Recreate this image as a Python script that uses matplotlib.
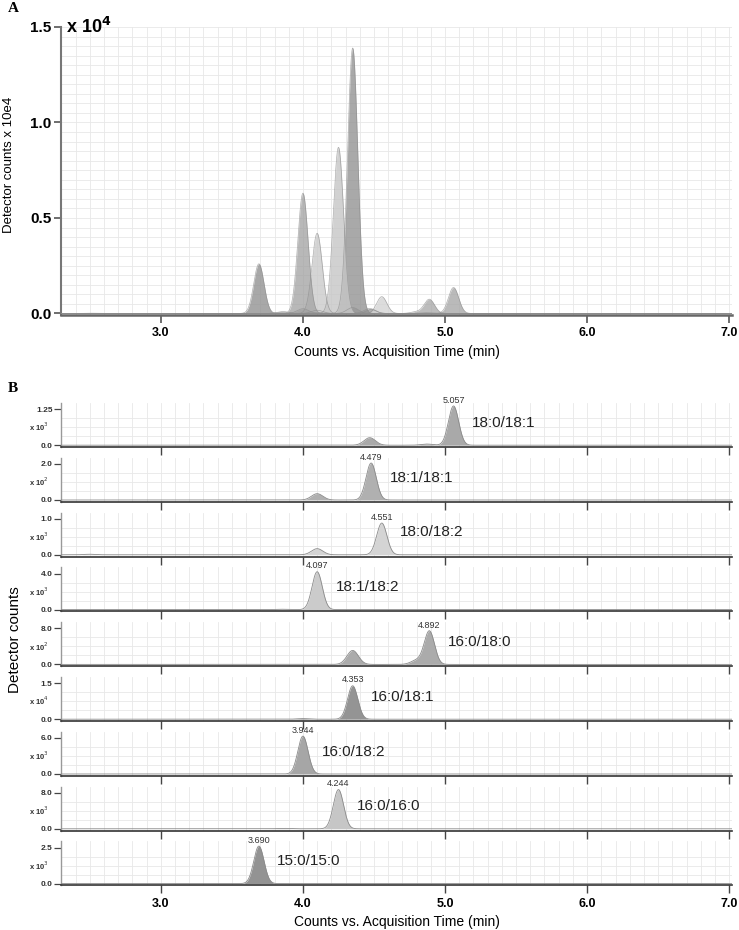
import numpy as np
import matplotlib
matplotlib.use('Agg')
import matplotlib.pyplot as plt
from matplotlib.ticker import MultipleLocator, FixedLocator

plt.rcParams['font.family'] = ['Liberation Sans', 'DejaVu Sans']

# compounds in panel B order (top to bottom)
compounds = ['18:0/18:1', '18:1/18:1', '18:0/18:2', '18:1/18:2', '16:0/18:0',
             '16:0/18:1', '16:0/18:2', '16:0/16:0', '15:0/15:0']
rt_labels = ['5.057', '4.479', '4.551', '4.097', '4.892', '4.353', '3.944',
             '4.244', '3.690']
peak_rt = [5.06, 4.48, 4.555, 4.10, 4.89, 4.35, 4.00, 4.25, 3.69]
peak_height = [1360, 205, 880, 4200, 740, 13900, 6300, 8700, 2600]
# small side peaks per trace: (rt, height)
minor_peaks = [
    [(4.47, 260), (4.87, 40)],
    [(4.10, 35)],
    [(4.10, 170), (2.50, 15)],
    [(3.84, 40)],
    [(4.35, 310), (4.80, 90)],
    [(4.00, 250)],
    [],
    [(3.86, 100)],
    [],
]
scale_top = [1.25, 2.0, 1.0, 4.0, 8.0, 1.5, 6.0, 8.0, 2.5]
scale_top_txt = ['1.25', '2.0', '1.0', '4.0', '8.0', '1.5', '6.0', '8.0', '2.5']
scale_exp = [3, 2, 3, 3, 2, 4, 3, 3, 3]
fills = ['#a9a9a9', '#b0b0b0', '#d4d4d4', '#cbcbcb', '#ababab', '#949494',
         '#a6a6a6', '#c6c6c6', '#939393']

x_ticks = [3.0, 4.0, 5.0, 6.0, 7.0]
a_yticks = [0.0, 0.5, 1.0, 1.5]

W, H = 739, 930
fig = plt.figure(figsize=(W / 100, H / 100), dpi=100)


def px_axes(l, t, r, b):
    return fig.add_axes([l / W, 1 - b / H, (r - l) / W, (b - t) / H])


def trace(x, i):
    y = peak_height[i] * np.exp(-0.5 * ((x - peak_rt[i]) / 0.036) ** 2)
    for rt, h in minor_peaks[i]:
        y = y + h * np.exp(-0.5 * ((x - rt) / 0.04) ** 2)
    return y


x = np.linspace(2.3, 7.02, 3000)
XMIN, XMAX = 2.297, 7.02

# ---- panel A: overlay of all traces
axA = px_axes(61, 27, 732, 315)
for i in range(len(compounds)):
    y = trace(x, i) / 1e4
    axA.fill_between(x, 0, y, color=fills[i], alpha=0.8, lw=0, zorder=2)
    axA.plot(x, y, color='#8c8c8c', lw=0.5, alpha=0.7, zorder=3)
axA.set_xlim(XMIN, XMAX)
axA.set_ylim(-0.008, 1.5)
axA.xaxis.set_major_locator(FixedLocator(x_ticks))
axA.xaxis.set_minor_locator(MultipleLocator(0.1))
axA.yaxis.set_major_locator(FixedLocator(a_yticks))
axA.yaxis.set_minor_locator(MultipleLocator(0.05))
axA.grid(which='both', color='#e8e8e8', lw=0.6, zorder=0)
axA.set_axisbelow(True)
axA.tick_params(which='minor', length=0)
axA.tick_params(axis='y', which='major', length=5, width=1.2, color='#555555',
                labelsize=11, pad=2)
axA.tick_params(axis='x', which='major', length=6, width=1.2, color='#555555',
                labelsize=9, pad=3)
axA.set_xticklabels(['%.1f' % v for v in x_ticks], fontweight='bold')
axA.set_yticklabels(['%.1f' % v for v in a_yticks], fontweight='bold')
for s in ['top', 'right']:
    axA.spines[s].set_visible(False)
axA.spines['left'].set_color('#777777')
axA.spines['left'].set_linewidth(1.5)
axA.spines['bottom'].set_color('#666666')
axA.spines['bottom'].set_linewidth(1.8)
axA.text(0.008, 1.0, r'x 10$^{\mathbf{4}}$', transform=axA.transAxes,
         fontsize=13, fontweight='bold', va='center', ha='left')
axA.set_xlabel('Counts vs. Acquisition Time (min)', fontsize=10, labelpad=4)
fig.text(9 / W, 1 - 165 / H, 'Detector counts x 10e4', rotation=90,
         fontsize=9.5, va='center', ha='center')
fig.text(8 / W, 1 - 8 / H, 'A', family='Liberation Serif', fontweight='bold',
         fontsize=11, va='center', ha='left')
fig.text(8 / W, 1 - 388 / H, 'B', family='Liberation Serif', fontweight='bold',
         fontsize=11, va='center', ha='left')

# ---- panel B: one strip per compound
n = len(compounds)
for i in range(n):
    bot = 447 + i * 54.8
    ax = px_axes(61, bot - 44, 732, bot)
    T = scale_top[i]
    unit = 10 ** scale_exp[i]
    y = trace(x, i) / unit
    ax.fill_between(x, 0, y, color=fills[i], lw=0, zorder=2)
    ax.plot(x, y, color='#8a8a8a', lw=0.6, zorder=3)
    ax.set_xlim(XMIN, XMAX)
    ax.set_ylim(-0.05 * T, 1.17 * T)
    ax.xaxis.set_major_locator(FixedLocator(x_ticks))
    ax.xaxis.set_minor_locator(MultipleLocator(0.1))
    ax.yaxis.set_major_locator(FixedLocator([0.0, T]))
    ax.yaxis.set_minor_locator(MultipleLocator(T / 4))
    ax.grid(which='minor', color='#e8e8e8', lw=0.6, zorder=0)
    ax.grid(which='major', axis='x', color='#e8e8e8', lw=0.6, zorder=0)
    ax.set_axisbelow(True)
    ax.tick_params(which='minor', length=0)
    ax.tick_params(axis='y', which='major', length=5, width=0.9,
                   color='#444444', labelsize=6, pad=1)
    ax.tick_params(axis='x', which='major', length=6, width=1.0,
                   color='#444444', labelsize=9, pad=3)
    ax.set_yticklabels(['0.0', scale_top_txt[i]], fontweight='bold',
                       color='#333333')
    if i < n - 1:
        ax.set_xticklabels([])
    else:
        ax.set_xticklabels(['%.1f' % v for v in x_ticks], fontweight='bold')
        ax.set_xlabel('Counts vs. Acquisition Time (min)', fontsize=10,
                      labelpad=4)
    for s in ['top', 'right']:
        ax.spines[s].set_visible(False)
    ax.spines['left'].set_color('#999999')
    ax.spines['left'].set_linewidth(1.0)
    ax.spines['bottom'].set_color('#333333')
    ax.spines['bottom'].set_linewidth(1.2)
    ax.annotate(r'x 10$^{%d}$' % scale_exp[i], xy=(0, 0.5 * T),
                xycoords=('axes fraction', 'data'), xytext=(-9, 0),
                textcoords='offset points', ha='right', va='center',
                fontsize=5.5, fontweight='bold', color='#333333')
    top = peak_height[i] / unit
    ax.annotate(rt_labels[i], xy=(peak_rt[i], top), xytext=(0, 1),
                textcoords='offset points', ha='center', va='bottom',
                fontsize=6.5, color='#333333')
    ax.text(peak_rt[i] + 0.13, 0.55, compounds[i],
            transform=ax.get_xaxis_transform(), fontsize=11, va='center',
            ha='left', color='#222222')

fig.text(15 / W, 1 - 640 / H, 'Detector counts', rotation=90, fontsize=11,
         va='center', ha='center')

fig.savefig('out.png', dpi=100)
